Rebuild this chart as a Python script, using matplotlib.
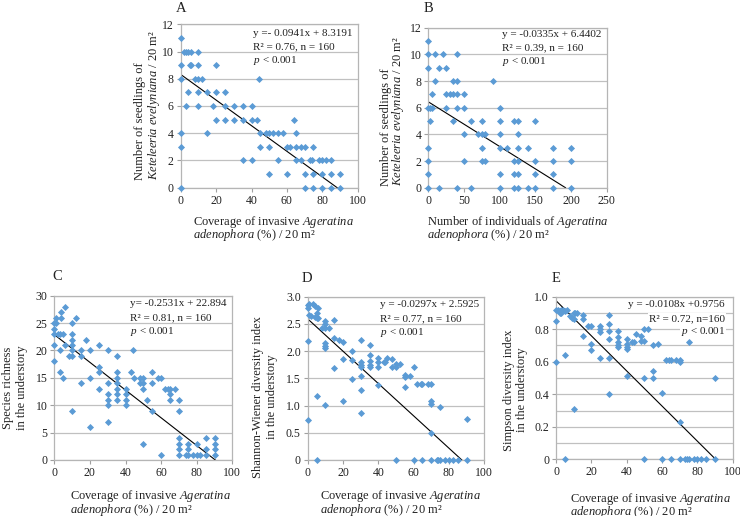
import matplotlib
matplotlib.use("Agg")
import matplotlib.pyplot as plt
from matplotlib.ticker import MultipleLocator, FuncFormatter

plt.rcParams['font.family'] = ['Liberation Serif', 'DejaVu Serif']
plt.rcParams['mathtext.fontset'] = 'custom'
plt.rcParams['mathtext.rm'] = 'Liberation Serif'
plt.rcParams['mathtext.it'] = 'Liberation Serif:italic'

# ---------------- data ----------------
A_pts = [(0,11),(0,9),(0,8),(0,4),(0,3),(0,0),
         (2,10),(3,10),(4,10),(6,10),(10,10),
         (5,9),(6,9),(10,9),(20,9),
         (8,8),(10,8),(12,8),(44,8),
         (4,7),(10,7),(15,7),(20,7),(25,7),
         (3,6),(10,6),(18,6),(25,6),(30,6),(35,6),(40,6),
         (20,5),(25,5),(30,5),(35,5),(40,5),(43,5),(64,5),
         (15,4),(45,4),(48,4),(50,4),(52,4),(55,4),(58,4),(65,4),
         (45,3),(50,3),(60,3),(62,3),(65,3),(68,3),(70,3),(75,3),
         (35,2),(40,2),(55,2),(65,2),(68,2),(73,2),(74,2),(78,2),(80,2),(82,2),(85,2),
         (50,1),(60,1),(70,1),(75,1),(80,1),(85,1),(90,1),
         (70,0),(75,0),(80,0),(85,0),(90,0)]
A_x = [p[0] for p in A_pts]
A_y = [p[1] for p in A_pts]

B_pts = [(0,11),
         (0,10),(10,10),(20,10),(40,10),
         (0,9),(15,9),(25,9),
         (10,8),(35,8),(40,8),(90,8),
         (5,7),(25,7),(30,7),(35,7),(40,7),(50,7),
         (0,6),(2,6),(5,6),(25,6),(40,6),(50,6),(100,6),
         (2,5),(35,5),(60,5),(75,5),(100,5),(120,5),(125,5),(150,5),
         (50,4),(70,4),(75,4),(80,4),(100,4),(125,4),
         (0,3),(75,3),(100,3),(110,3),(125,3),(140,3),(175,3),(200,3),
         (0,2),(50,2),(75,2),(80,2),(120,2),(125,2),(150,2),(175,2),(200,2),
         (0,1),(100,1),(120,1),(125,1),(150,1),(175,1),
         (0,0),(15,0),(40,0),(60,0),(100,0),(120,0),(125,0),(140,0),(150,0),(175,0),(200,0)]
B_x = [p[0] for p in B_pts]
B_y = [p[1] for p in B_pts]

C_pts = [(6,28),(4,27),(1,26),(4,26),(12,26),(0,25),(1,25),(10,25),(0,24),
         (0,23),(2,23),(3,23),(5,23),(10,23),(10,22),(18,22),
         (0,21),(6,21),(10,21),(25,21),
         (3,20),(10,20),(15,20),(20,20),(30,20),(44,20),
         (8,19),(10,19),(15,19),(35,19),(0,18),(25,17),
         (3,16),(25,16),(35,16),(43,16),(55,16),
         (5,15),(20,15),(35,15),(45,15),(48,15),(50,15),(58,15),(60,15),
         (15,14),(30,14),(35,14),(48,14),(50,14),(55,14),
         (25,13),(35,13),(40,13),(50,13),(62,13),(64,13),(65,13),(68,13),
         (30,12),(35,12),(40,12),(65,12),
         (30,11),(35,11),(40,11),(52,11),(65,11),(70,11),
         (30,10),(40,10),(10,9),(55,9),(70,9),(30,7),(20,6),
         (70,4),(85,4),(90,4),(50,3),(70,3),(75,3),(80,3),(90,3),
         (70,2),(75,2),(85,2),(90,2),
         (60,1),(70,1),(74,1),(75,1),(78,1),(80,1),(82,1),(85,1),(90,1)]
C_x = [p[0] for p in C_pts]
C_y = [p[1] for p in C_pts]

D_pts = [(0,2.85),(0,2.80),(1,2.86),(3,2.86),(4,2.82),(6,2.79),(1,2.66),(2,2.65),
         (4,2.62),(6,2.60),(5,2.70),(5,2.60),(0,2.18),(0,0.73),(5,1.17),(5,0),
         (8,2.42),(10,2.55),(10,2.50),(10,2.43),(12,2.42),(10,2.15),(10,2.10),(10,2.05),(10,1.01),
         (15,2.58),(15,2.25),(15,1.69),(18,2.20),(20,2.16),(20,1.85),(20,1.09),
         (25,2.01),(25,1.83),(25,1.49),
         (30,2.21),(30,1.80),(30,1.75),(30,1.70),(30,1.55),(30,1.28),(30,0.86),
         (35,2.12),(35,1.93),(35,1.81),(35,1.74),(35,1.70),
         (40,1.87),(40,1.80),(40,1.70),(40,1.38),
         (43,1.80),(44,1.80),(45,1.88),(48,1.85),(48,1.70),(50,1.76),(50,1.70),(50,0),(52,1.76),
         (55,1.57),(55,1.53),(55,1.35),(58,1.55),(60,1.70),(60,0),
         (62,1.40),(64,1.40),(65,1.40),(65,0),(68,1.40),(70,1.40),(70,1.08),(70,1.03),(70,0.50),(70,0),
         (73,0),(74,0),(75,0.97),(75,0),(78,0),(80,0),(82,0),(85,0),(90,0.75),(90,0)]
D_x = [p[0] for p in D_pts]
D_y = [p[1] for p in D_pts]

E_pts = [(0,0.92),(1,0.92),(2,0.90),(2,0.91),(3,0.92),(3,0.90),(4,0.92),(5,0.91),(6,0.92),
         (0,0.85),(0,0.60),(5,0.64),(5,0),
         (8,0.88),(9,0.87),(10,0.90),(10,0.86),(10,0.31),(11,0.90),(12,0.90),
         (15,0.89),(15,0.86),(15,0.76),(18,0.82),(20,0.82),(20,0.71),(20,0.67),
         (25,0.82),(25,0.80),(25,0.78),(25,0.62),
         (30,0.89),(30,0.83),(30,0.79),(30,0.74),(30,0.62),(30,0.40),
         (35,0.79),(35,0.75),(35,0.72),(35,0.70),(35,0.69),
         (40,0.74),(40,0.71),(40,0.69),(40,0.68),(40,0.51),
         (43,0.72),(44,0.72),(45,0.77),(48,0.76),(48,0.73),
         (50,0.80),(50,0.73),(50,0.50),(50,0),(52,0.80),
         (55,0.70),(55,0.54),(55,0.50),(58,0.71),(60,0.41),(60,0),
         (62,0.61),(64,0.61),(65,0.61),(65,0),(68,0.61),
         (70,0.61),(70,0.60),(70,0.23),(70,0),
         (73,0),(74,0),(75,0.72),(75,0),(78,0),(80,0),(82,0),(85,0),(90,0.50),(90,0)]
E_x = [p[0] for p in E_pts]
E_y = [p[1] for p in E_pts]

# regression (slope, intercept)
A_fit = (-0.0941, 8.3191)
B_fit = (-0.0335, 6.4402)
C_fit = (-0.2531, 22.894)
D_fit = (-0.0297, 2.5925)
E_fit = (-0.0108, 0.9756)

A_text = ["y =- 0.0941x + 8.3191", "R² = 0.76, n = 160", "$\\mathit{p}$ < 0.001"]
B_text = ["y = -0.0335x + 6.4402", "R² = 0.39, n = 160", "$\\mathit{p}$ < 0.001"]
C_text = ["y= -0.2531x + 22.894", "R² = 0.81, n = 160", "$\\mathit{p}$ < 0.001"]
D_text = ["y = -0.0297x + 2.5925", "R² = 0.77, n = 160", "$\\mathit{p}$ < 0.001"]
E_text = ["y = -0.0108x +0.9756", "R² = 0.72, n=160", "$\\mathit{p}$ < 0.001"]

cov1 = "Coverage of invasive $\\mathit{Ageratina}$"
cov2 = "$\\mathit{adenophora}$ (%) / 20 m²"
ind1 = "Number of individuals of $\\mathit{Ageratina}$"
kete1 = "Number of seedlings of"
kete2 = "$\\mathit{Keteleeria}$ $\\mathit{evelyniana}$ / 20 m²"

# ---------------- drawing ----------------
W, H = 740, 516
fig = plt.figure(figsize=(W/100, H/100), dpi=100)

def rect(l, r, t, b):
    return [l/W, 1-b/H, (r-l)/W, (b-t)/H]

def fp(x, y):
    return (x/W, 1-y/H)

BLUE = '#5B9BD5'
GRID = '#c0c0c0'
TXT = '#222222'

def panel(r, xs, ys, fit, xmax, xstep, ymax, ystep, yminor=None, yfmt=None):
    ax = fig.add_axes(r)
    ax.set_xlim(0, xmax)
    ax.set_ylim(0, ymax)
    ax.xaxis.set_major_locator(MultipleLocator(xstep))
    ax.yaxis.set_major_locator(MultipleLocator(ystep))
    if yminor:
        ax.yaxis.set_minor_locator(MultipleLocator(yminor))
        ax.grid(True, which='minor', axis='y', color=GRID, lw=0.9)
        ax.tick_params(axis='y', which='minor', length=0)
    if yfmt:
        ax.yaxis.set_major_formatter(FuncFormatter(yfmt))
    ax.grid(True, which='major', axis='y', color=GRID, lw=0.9)
    ax.set_axisbelow(True)
    for s in ax.spines.values():
        s.set_color('#b5b5b5')
        s.set_linewidth(0.9)
    ax.tick_params(which='major', direction='out', length=3, width=0.8, color='#a0a0a0',
                   labelsize=8.5, labelcolor=TXT, pad=2)
    x_end = -fit[1]/fit[0]
    ax.plot([0, x_end], [fit[1], fit[0]*x_end + fit[1]], color='black', lw=0.8, zorder=2)
    ax.scatter(xs, ys, marker='D', s=13, color=BLUE, linewidths=0, zorder=3, clip_on=False)
    return ax

def fmt1(v, pos):
    return '0' if abs(v) < 1e-9 else f'{v:.1f}'

axA = panel(rect(180.7, 357.7, 24.3, 187.7), A_x, A_y, A_fit, 100, 20, 12, 2)
axB = panel(rect(428.3, 606.7, 27.7, 187.7), B_x, B_y, B_fit, 250, 50, 12, 2)
axC = panel(rect(54.3, 232.3, 295.7, 460), C_x, C_y, C_fit, 100, 20, 30, 5)
axD = panel(rect(307.7, 484.3, 296.7, 460), D_x, D_y, D_fit, 100, 20, 3.0, 0.5, yfmt=fmt1)
axE = panel(rect(556, 732.7, 296.7, 459.3), E_x, E_y, E_fit, 100, 20, 1.0, 0.2, yminor=0.1, yfmt=fmt1)

def stats(ax, lines, x, y, dy, ha='left', bg=False):
    for i, s in enumerate(lines):
        t = ax.text(x, y, s, transform=ax.transData, ha=ha, va='center', fontsize=8, color=TXT,
                    zorder=4)
        y -= dy
        if bg:
            t.set_bbox(dict(facecolor='white', edgecolor='none', pad=0.5))

stats(axA, A_text, 41, 11.35, 1.0)
stats(axB, B_text, 103, 11.5, 1.0)
stats(axC, C_text, 42.5, 28.5, 2.5)
stats(axD, D_text, 41, 2.85, 0.25)
stats(axE, E_text, 95.7, 0.95, 0.083, ha='right', bg=True)

LAB = 9
def hline(x, yb, s):
    # horizontal text line, left start x, baseline yb (pixels)
    fig.text(*fp(x, yb), s, ha='left', va='baseline', fontsize=LAB, color=TXT)

def vline(xb, y0, s):
    # rotated text line, baseline at x=xb, starting at y0 (bottom) going up
    fig.text(*fp(xb, y0), s, ha='left', va='baseline', rotation=90, rotation_mode='anchor',
             fontsize=LAB, color=TXT)

def vlabel_c(x, y, s):
    fig.text(*fp(x, y), s, ha='center', va='center', rotation=90, multialignment='center',
             fontsize=LAB, color=TXT, linespacing=1.15)

# Panel A
vline(143.5, 180, kete1)
vline(156.5, 180, kete2)
hline(193, 224.5, cov1)
hline(193, 238.5, cov2)
# Panel B
vline(388.5, 186.5, kete1)
vline(401.5, 186.5, kete2)
hline(427, 224.5, ind1)
hline(427, 238.5, cov2)
# Panel C
vlabel_c(15, 388, "Species richness\nin the understory")
hline(70, 499, cov1)
hline(70, 513, cov2)
# Panel D
vlabel_c(265, 397, "Shannon-Wiener diversity index\nin the understory")
hline(320, 499, cov1)
hline(320, 513, cov2)
# Panel E
vlabel_c(515.5, 390, "Simpson diversity index\nin the understory")
hline(570, 502, cov1)
hline(570, 515, cov2)

for lx, ly, s in [(181, 8, 'A'), (428, 8, 'B'), (57, 277, 'C'), (307, 278, 'D'), (556, 278, 'E')]:
    fig.text(*fp(lx, ly), s, ha='center', va='center', fontsize=10.5, color=TXT)

fig.savefig('out.png', dpi=100)
